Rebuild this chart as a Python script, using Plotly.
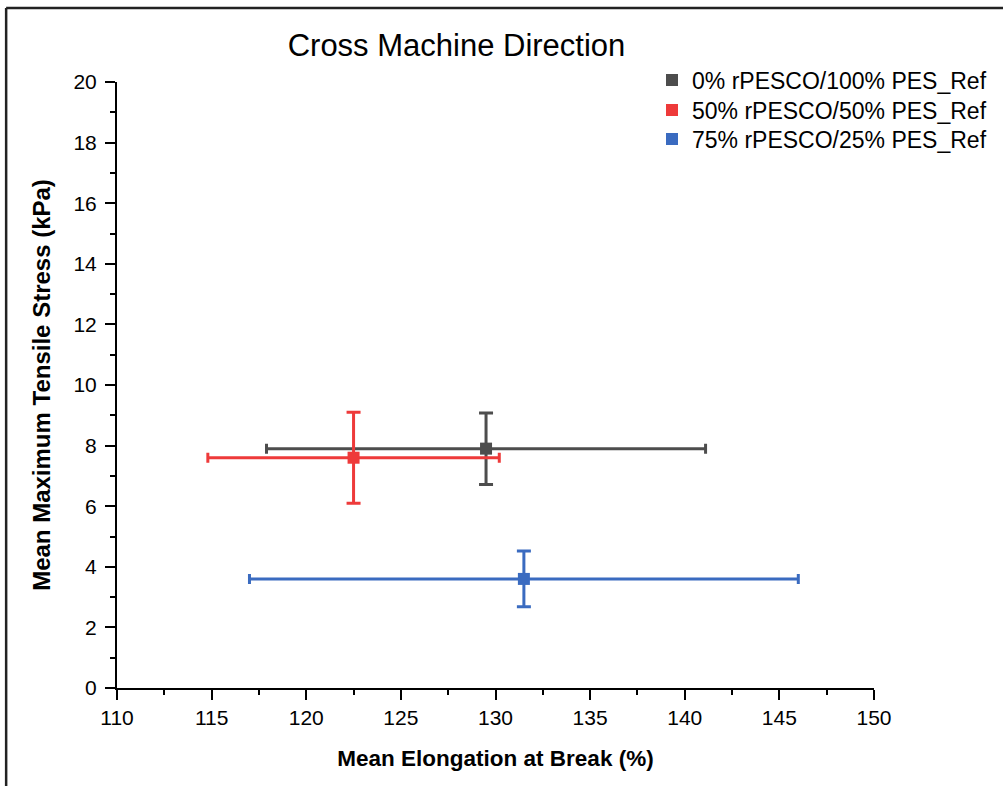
import plotly.graph_objects as go

series = ["0% rPESCO/100% PES_Ref", "50% rPESCO/50% PES_Ref", "75% rPESCO/25% PES_Ref"]
elongation = [129.5, 122.5, 131.5]
elongation_err = [11.6, 7.7, 14.5]
stress = [7.9, 7.6, 3.6]
stress_err = [1.18, 1.5, 0.92]
colors = ["#4d4d4d", "#ee3a3a", "#3a6bc0"]

L, R, T, B = 117, 128, 82, 98
W, H = 1003, 786
pw, ph = W - L - R, H - T - B

def px(xp):
    return (xp - L) / pw

def py(yp):
    return 1 - (yp - T) / ph

legend_ids = ["legend", "legend2", "legend3"]
legend_rows = [80, 110, 139]

fig = go.Figure()
for i, (name, x, xe, y, ye, c) in enumerate(zip(series, elongation, elongation_err, stress, stress_err, colors)):
    fig.add_trace(go.Scatter(
        x=[x], y=[y], name=name, mode="markers", legend=legend_ids[i],
        marker=dict(symbol="square", size=12, color=c),
        error_x=dict(type="data", array=[xe], color=c, thickness=3, width=5),
        error_y=dict(type="data", array=[ye], color=c, thickness=3, width=7),
    ))

legend_common = dict(xanchor="left", yanchor="middle", font=dict(size=23),
                     bgcolor="rgba(0,0,0,0)", itemsizing="constant")
layout_legends = {}
for lid, row in zip(legend_ids, legend_rows):
    layout_legends[lid] = dict(x=px(652), y=py(row), **legend_common)

fig.update_layout(
    width=W, height=H,
    margin=dict(l=L, r=R, t=T, b=B),
    paper_bgcolor="white", plot_bgcolor="white",
    font=dict(family="Liberation Sans, Arial, sans-serif", color="black"),
    title=dict(text="Cross Machine Direction", x=px(462), xanchor="center",
               y=1 - 45 / H, yanchor="middle", font=dict(size=31)),
    showlegend=True,
    xaxis=dict(range=[110, 150], tickmode="linear", tick0=110, dtick=5,
               showgrid=False, zeroline=False, showline=True, linecolor="black", linewidth=2,
               ticks="outside", ticklen=10, tickwidth=2, tickcolor="black",
               tickfont=dict(size=21),
               minor=dict(ticks="outside", ticklen=5, tickwidth=2, tickcolor="black", dtick=2.5, showgrid=False),
               title=dict(text="<b>Mean Elongation at Break (%)</b>", font=dict(size=22.5), standoff=22)),
    yaxis=dict(range=[0, 20], tickmode="linear", tick0=0, dtick=2,
               showgrid=False, zeroline=False, showline=True, linecolor="black", linewidth=2,
               ticks="outside", ticklen=10, tickwidth=2, tickcolor="black",
               tickfont=dict(size=21), ticklabelstandoff=4,
               minor=dict(ticks="outside", ticklen=5, tickwidth=2, tickcolor="black", dtick=1, showgrid=False),
               title=dict(text="<b>Mean Maximum Tensile Stress (kPa)</b>", font=dict(size=24), standoff=16)),
    shapes=[
        dict(type="line", xref="paper", yref="paper", x0=px(6), x1=px(W + 5), y0=py(8), y1=py(8),
             line=dict(color="#222", width=2.5)),
        dict(type="line", xref="paper", yref="paper", x0=px(6), x1=px(6), y0=py(8), y1=py(H + 5),
             line=dict(color="#222", width=2.5)),
    ],
    **layout_legends,
)

fig.write_html("out.html")
